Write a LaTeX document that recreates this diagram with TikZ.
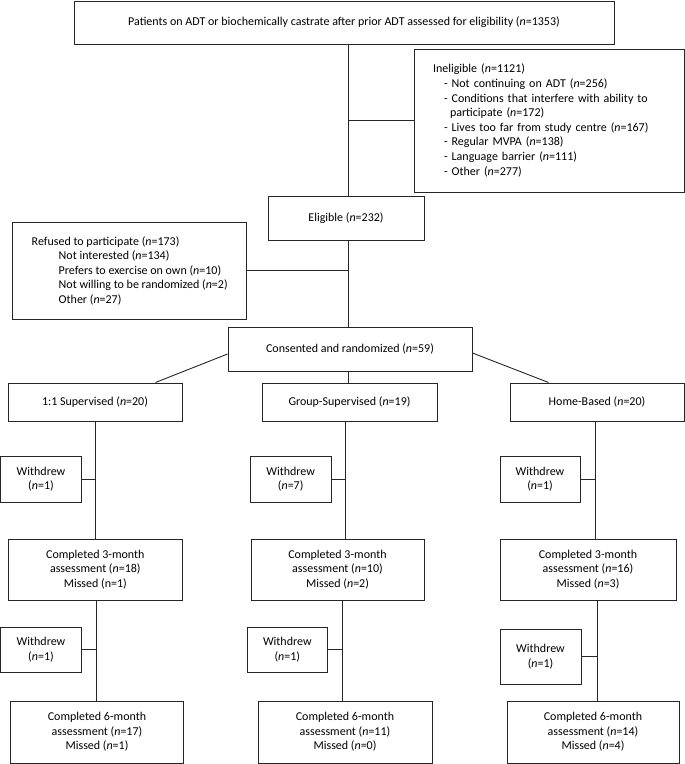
\documentclass[tikz,border=0pt]{standalone}
\usepackage{fontspec}
\setmainfont{Carlito}
\usepackage{tikz}
\colorlet{boxline}{black!85}
\newcommand{\nn}{\textit{n}}

\begin{document}
\begin{tikzpicture}[x=1pt,y=-1pt,
    box/.style={draw=boxline,line width=0.9pt,inner sep=0pt,align=center,
      font=\fontsize{12}{14.6}\selectfont},
    link/.style={draw=boxline,line width=0.9pt}]
  \useasboundingbox (0,0) rectangle (685,764);
  \node[box,minimum width=540pt,minimum height=43pt] (screen) at (344,22.5)
    {Patients on ADT or biochemically castrate after prior ADT assessed for eligibility (\nn=1353)};
  \node[box,align=left,text width=232pt,inner xsep=19pt,minimum height=143pt] (inel) at (549,120.5)
    {Ineligible (\nn=1121)\\
     \hspace*{11pt}- Not continuing on ADT (\nn=256)\\
     \hspace*{11pt}- Conditions that interfere with ability to\\
     \hspace*{17pt}participate (\nn=172)\\
     \hspace*{11pt}- Lives too far from study centre (\nn=167)\\
     \hspace*{11pt}- Regular MVPA (\nn=138)\\
     \hspace*{11pt}- Language barrier (\nn=111)\\
     \hspace*{11pt}- Other (\nn=277)};
  \node[box,minimum width=156pt,minimum height=43.5pt] (elig) at (346,218.25) {Eligible (\nn=232)};
  \node[box,align=left,minimum width=234pt,minimum height=96.3pt] (refuse) at (129.7,270.8)
    {Refused to participate (\nn=173)\\
     \hspace*{27pt}Not interested (\nn=134)\\
     \hspace*{27pt}Prefers to exercise on own (\nn=10)\\
     \hspace*{27pt}Not willing to be randomized (\nn=2)\\
     \hspace*{27pt}Other (\nn=27)};
  \node[box,minimum width=244pt,minimum height=44pt] (rand) at (350,349) {Consented and randomized (\nn=59)};
  \node[box,minimum width=174pt,minimum height=38.7pt] (arm1) at (95,402.3) {1:1 Supervised (\nn=20)};
  \node[box,minimum width=175pt,minimum height=38.7pt] (arm2) at (349.5,402.3) {Group-Supervised (\nn=19)};
  \node[box,minimum width=174pt,minimum height=38.7pt] (arm3) at (597,402.3) {Home-Based (\nn=20)};
  \node[box,minimum width=81pt,minimum height=46pt] (wdA1) at (41,479) {Withdrew\\(\nn=1)};
  \node[box,minimum width=81pt,minimum height=46pt] (wdB1) at (290.7,479) {Withdrew\\(\nn=7)};
  \node[box,minimum width=80pt,minimum height=46pt] (wdC1) at (540,479) {Withdrew\\(\nn=1)};
  \node[box,minimum width=174pt,minimum height=61pt] (thrA) at (95.3,569.5)
    {Completed 3-month\\assessment (\nn=18)\\Missed (n=1)};
  \node[box,minimum width=173pt,minimum height=61pt] (thrB) at (337.5,569.5)
    {Completed 3-month\\assessment (\nn=10)\\Missed (\nn=2)};
  \node[box,minimum width=176pt,minimum height=61pt] (thrC) at (588,569.5)
    {Completed 3-month\\assessment (\nn=16)\\Missed (\nn=3)};
  \node[box,minimum width=81pt,minimum height=45pt] (wdA2) at (41,649.5) {Withdrew\\(\nn=1)};
  \node[box,minimum width=80.7pt,minimum height=45pt] (wdB2) at (287.3,649.5) {Withdrew\\(\nn=1)};
  \node[box,minimum width=81pt,minimum height=55pt] (wdC2) at (540.5,656.5) {Withdrew\\(\nn=1)};
  \node[box,minimum width=173.4pt,minimum height=62pt] (sixA) at (97,732)
    {Completed 6-month\\assessment (\nn=17)\\Missed (\nn=1)};
  \node[box,minimum width=174pt,minimum height=62pt] (sixB) at (345,732)
    {Completed 6-month\\assessment (\nn=11)\\Missed (\nn=0)};
  \node[box,minimum width=172pt,minimum height=62pt] (sixC) at (593,732)
    {Completed 6-month\\assessment (\nn=14)\\Missed (\nn=4)};
  \coordinate (spine) at (348,0);
  \coordinate (trunkA1) at (95.7,0);
  \coordinate (trunkA2) at (96.7,0);
  \coordinate (trunkB1) at (345.7,0);
  \coordinate (trunkB2) at (342,0);
  \coordinate (trunkC1) at (595,0);
  \coordinate (trunkC2) at (597,0);
  \draw[link] (screen.south -| spine) -- (elig.north -| spine);
  \draw[link] (inel.west -| spine) -- (inel.west);
  \draw[link] (elig.south -| spine) -- (rand.north -| spine);
  \draw[link] (refuse.east) -- (refuse.east -| spine);
  \draw[link] ([yshift=-5pt]rand.west) -- ([xshift=-27pt]arm1.north east);
  \draw[link] (rand.south -| spine) -- (arm2.north -| spine);
  \draw[link] ([yshift=-4pt]rand.east) -- ([xshift=39pt]arm3.north west);
  \draw[link] (arm1.south -| trunkA1) -- (thrA.north -| trunkA1);
  \draw[link] (thrA.south -| trunkA2) -- (sixA.north -| trunkA2);
  \draw[link] (arm2.south -| trunkB1) -- (thrB.north -| trunkB1);
  \draw[link] (thrB.south -| trunkB2) -- (sixB.north -| trunkB2);
  \draw[link] (arm3.south -| trunkC1) -- (thrC.north -| trunkC1);
  \draw[link] (thrC.south -| trunkC2) -- (sixC.north -| trunkC2);
  \draw[link] (wdA1.east) -- (wdA1.east -| trunkA1);
  \draw[link] (wdB1.east) -- (wdB1.east -| trunkB1);
  \draw[link] (wdC1.east) -- (wdC1.east -| trunkC1);
  \draw[link] (wdA2.east) -- (wdA2.east -| trunkA2);
  \draw[link] (wdB2.east) -- (wdB2.east -| trunkB2);
  \draw[link] (wdC2.east) -- (wdC2.east -| trunkC2);
\end{tikzpicture}
\end{document}
